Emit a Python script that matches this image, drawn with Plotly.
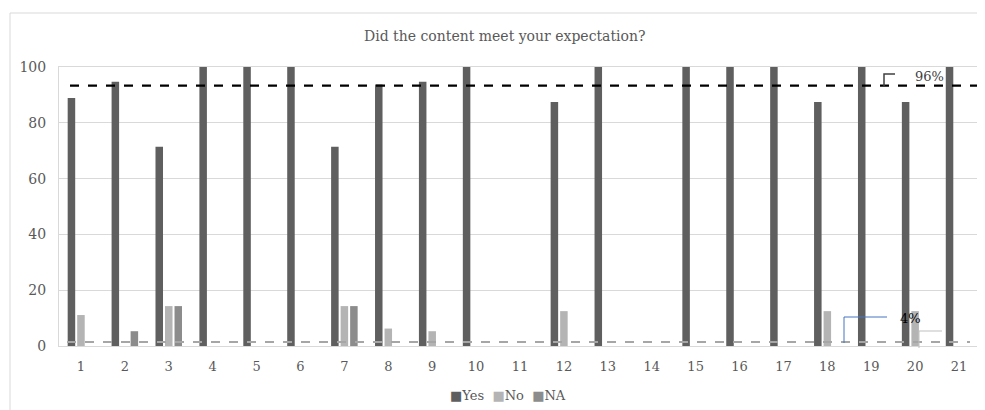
import plotly.graph_objects as go

categories = [str(i) for i in range(1, 22)]
yes_vals = [88.9, 94.7, 71.4, 100, 100, 100, 71.4, 93.75, 94.7, 100, None,
            87.5, 100, None, 100, 100, 100, 87.5, 100, 87.5, 100]
no_vals = [11.1, None, 14.3, None, None, None, 14.3, 6.25, 5.3, None, None,
           12.5, None, None, None, None, None, 12.5, None, 12.5, None]
na_vals = [None, 5.3, 14.3, None, None, None, 14.3, None, None, None, None,
           None, None, None, None, None, None, None, None, None, None]
series_names = ["Yes", "No", "NA"]
series_colors = ["#5f5f5f", "#b4b4b4", "#8c8c8c"]
yes_ref_line = 93.3
na_ref_line = 1.4
yes_label = "96%"
na_label = "4%"
title_text = "Did the content meet your expectation?"

# page body has an 8px default margin; compensate
OFF = 8
W, H = 985 - OFF, 410 - OFF
L, T = 59 - OFF, 67 - OFF
R = W - (981 - OFF)
B = H - (346 - OFF)
PW, PH = W - L - R, H - T - B

def px(x):
    return (x - OFF - L) / PW

def py(y):
    return (H - B - (y - OFF)) / PH

FONT = "DejaVu Serif"
TXT = "#595959"

fig = go.Figure()
for name, vals, col in zip(series_names, [yes_vals, no_vals, na_vals], series_colors):
    fig.add_trace(go.Bar(name=name, x=categories, y=vals, marker_color=col,
                         marker_line_width=0, showlegend=False))

shapes = []
shapes.append(dict(type="line", xref="x domain", yref="y", x0=px(70), x1=1.0,
                   y0=yes_ref_line, y1=yes_ref_line,
                   line=dict(color="black", width=2.2, dash="dash")))
shapes.append(dict(type="line", xref="x domain", yref="y", x0=px(67), x1=px(970),
                   y0=na_ref_line, y1=na_ref_line,
                   line=dict(color="#a6a6a6", width=2, dash="dash")))
shapes.append(dict(type="path", xref="paper", yref="paper",
                   path=f"M{px(884)},{py(86)} L{px(884)},{py(74)} L{px(895)},{py(74)}",
                   line=dict(color="#404040", width=1.5)))
shapes.append(dict(type="path", xref="paper", yref="paper",
                   path=f"M{px(887)},{py(317)} L{px(844)},{py(317)} L{px(844)},{py(343)}",
                   line=dict(color="#4472C4", width=1)))
shapes.append(dict(type="path", xref="paper", yref="paper",
                   path=f"M{px(942)},{py(331)} L{px(919)},{py(331)} L{px(919)},{py(348)}",
                   line=dict(color="#bfbfbf", width=1)))
shapes.append(dict(type="rect", xref="paper", yref="paper",
                   x0=px(10), x1=px(1000), y0=py(430), y1=py(13),
                   line=dict(color="#d9d9d9", width=1), layer="below"))

legend_text = "&nbsp;&nbsp;".join(
    f"<span style='color:{c}'>■</span>{n}" for n, c in zip(series_names, series_colors))

annotations = [
    dict(text=title_text, xref="paper", yref="paper", x=px(505), y=py(36),
         showarrow=False, font=dict(family=FONT, size=14, color=TXT),
         xanchor="center", yanchor="middle"),
    dict(text=yes_label, xref="paper", yref="paper", x=px(929), y=py(76),
         showarrow=False, font=dict(family=FONT, size=13, color="#404040"),
         xanchor="center", yanchor="middle"),
    dict(text=na_label, xref="paper", yref="paper", x=px(910), y=py(318),
         showarrow=False, font=dict(family=FONT, size=13, color="#000000"),
         xanchor="center", yanchor="middle"),
    dict(text=legend_text, xref="paper", yref="paper", x=px(508), y=py(395),
         showarrow=False, font=dict(family=FONT, size=13, color=TXT),
         xanchor="center", yanchor="middle"),
]

fig.update_layout(
    width=W, height=H,
    margin=dict(l=L, r=R, t=T, b=B, autoexpand=False),
    paper_bgcolor="white", plot_bgcolor="white",
    barmode="group", bargap=0.35, bargroupgap=0.21,
    font=dict(family=FONT, size=13, color=TXT),
    showlegend=False,
    shapes=shapes, annotations=annotations,
)
fig.update_yaxes(range=[0, 100], dtick=20, gridcolor="#d9d9d9", gridwidth=1,
                 showline=True, linecolor="#d9d9d9", mirror=True, zeroline=False,
                 ticks="", automargin=False, ticklabelstandoff=9,
                 tickfont=dict(family=FONT, size=14, color=TXT))
fig.update_xaxes(type="category", showline=True, linecolor="#d9d9d9", mirror=True,
                 ticks="", showgrid=False, automargin=False, ticklabelstandoff=8,
                 tickfont=dict(family=FONT, size=13, color=TXT))

fig.write_html("out.html")
